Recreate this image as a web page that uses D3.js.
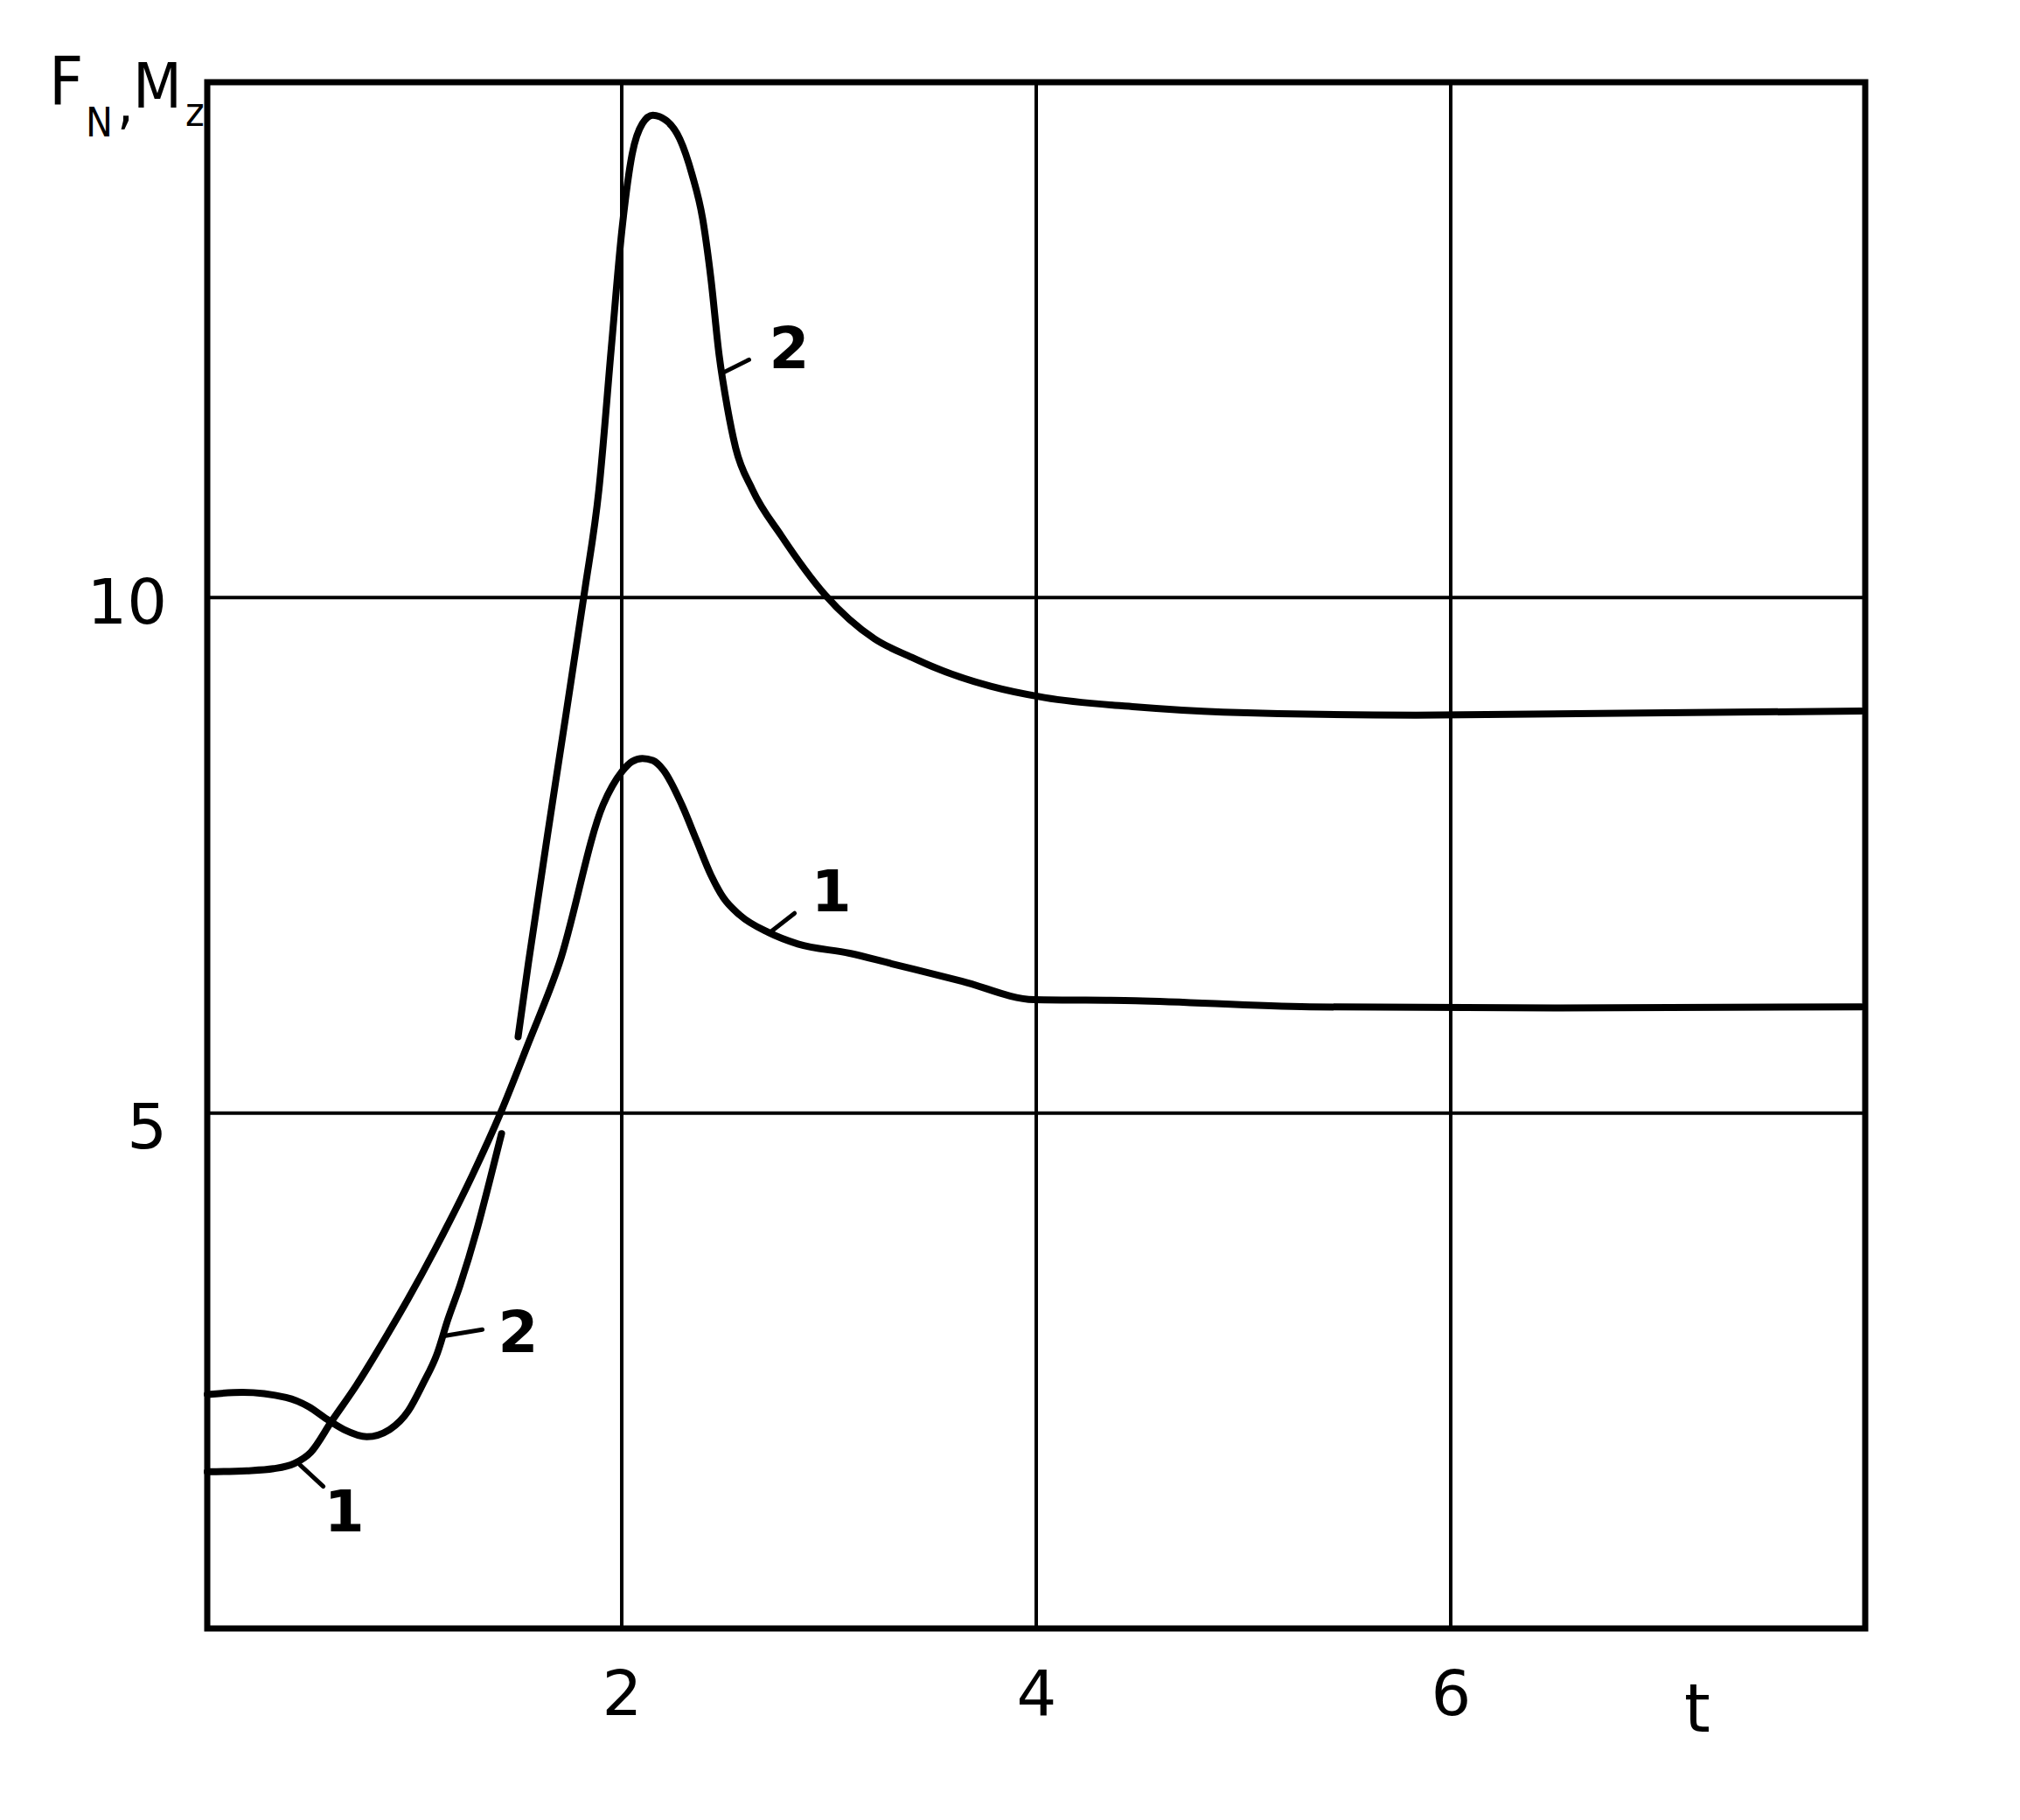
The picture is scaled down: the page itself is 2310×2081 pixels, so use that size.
<!DOCTYPE html>
<html><head><meta charset="utf-8">
<script src="https://cdn.jsdelivr.net/npm/d3@7"></script>
<style>body{margin:0;background:#fff}</style>
</head><body>
<svg id="c" width="2310" height="2081"></svg>
<script>
// ---- data ----
const xDomain = [0, 8];
const yDomain = [0, 15];
const xTicks = [2, 4, 6];
const xTickLabels = ["2", "4", "6"];
const yTicks = [5, 10];
const yTickLabels = ["5", "10"];
const xAxisTitle = "t";

// curve 1
const curve1T = [0, 0.19, 0.32, 0.42, 0.50, 0.60, 0.72, 0.86, 0.97, 1.10, 1.28, 1.415, 1.55, 1.70, 1.91, 2.00, 2.05, 2.10, 2.15, 2.20, 2.29, 2.36, 2.43, 2.49, 2.57, 2.71, 2.85, 3.10, 3.30, 3.64, 3.99, 4.48, 5.32, 6.50, 7.98];
const curve1V = [1.52, 1.53, 1.55, 1.60, 1.71, 2.01, 2.36, 2.82, 3.20, 3.68, 4.40, 5.00, 5.68, 6.46, 7.99, 8.31, 8.41, 8.44, 8.42, 8.33, 7.99, 7.65, 7.31, 7.09, 6.92, 6.75, 6.64, 6.55, 6.45, 6.28, 6.10, 6.09, 6.03, 6.02, 6.03];

// curve 2, lower piece (drawn up to the crossing) and upper piece
const curve2aT = [0, 0.17, 0.38, 0.49, 0.57, 0.66, 0.77, 0.88, 0.97, 1.04, 1.11, 1.16, 1.22, 1.30, 1.36, 1.42];
const curve2aV = [2.27, 2.29, 2.24, 2.15, 2.04, 1.93, 1.86, 1.93, 2.11, 2.37, 2.67, 2.99, 3.33, 3.86, 4.32, 4.80];
const curve2bT = [1.50, 1.55, 1.68, 1.82, 1.89, 1.95, 2.00, 2.05, 2.10, 2.15, 2.22, 2.28, 2.34, 2.39, 2.43, 2.47, 2.51, 2.55, 2.63, 2.77, 2.98, 3.22, 3.40, 3.50, 3.78, 4.04, 4.48, 4.90, 5.83, 7.98];
const curve2bV = [5.74, 6.46, 8.20, 10.05, 11.05, 12.43, 13.55, 14.30, 14.60, 14.68, 14.62, 14.45, 14.10, 13.68, 13.10, 12.35, 11.84, 11.45, 11.05, 10.60, 10.03, 9.60, 9.42, 9.33, 9.14, 9.03, 8.94, 8.89, 8.86, 8.90];

// curve annotations: label text and anchor point on the curve (t, v)
const annoText = ["2", "1", "2", "1"];
const annoT = [2.487, 2.72, 1.15, 0.446];
const annoV = [12.18, 6.76, 2.84, 1.59];

// ---- layout / style ----
const svg = d3.select("#c");
const x = d3.scaleLinear().domain(xDomain).range([237, 2133]);
const y = d3.scaleLinear().domain(yDomain).range([1862, 94]);
const ink = "#000";
const font = "'DejaVu Sans', sans-serif";

const g = svg.append("g");

// grid lines
g.selectAll(".vg").data(xTicks).join("line")
  .attr("x1", d => x(d)).attr("x2", d => x(d))
  .attr("y1", y(yDomain[1])).attr("y2", y(yDomain[0]))
  .attr("stroke", ink).attr("stroke-width", 4);
g.selectAll(".hg").data(yTicks).join("line")
  .attr("y1", d => y(d)).attr("y2", d => y(d))
  .attr("x1", x(xDomain[0])).attr("x2", x(xDomain[1]))
  .attr("stroke", ink).attr("stroke-width", 4);

// frame
g.append("rect")
  .attr("x", x(xDomain[0])).attr("y", y(yDomain[1]))
  .attr("width", x(xDomain[1]) - x(xDomain[0]))
  .attr("height", y(yDomain[0]) - y(yDomain[1]))
  .attr("fill", "none").attr("stroke", ink).attr("stroke-width", 7);

// axes labels (drawn via d3 axes, domain/ticks hidden)
const xAxis = d3.axisBottom(x).tickValues(xTicks).tickFormat((d, i) => xTickLabels[i]).tickSize(0).tickPadding(48);
const gx = g.append("g").attr("transform", `translate(0,${y(yDomain[0])})`).call(xAxis);
gx.select(".domain").remove();
gx.selectAll("text").attr("font-family", font).attr("font-size", 72).attr("fill", ink);

const yAxis = d3.axisLeft(y).tickValues(yTicks).tickFormat((d, i) => yTickLabels[i]).tickSize(0).tickPadding(46);
const gy = g.append("g").attr("transform", `translate(${x(xDomain[0])},0)`).call(yAxis);
gy.select(".domain").remove();
gy.selectAll("text").attr("font-family", font).attr("font-size", 72).attr("fill", ink)
  .attr("dy", (d) => d === 5 ? "0.55em" : "0.4em");

// x axis title "t"
g.append("text").attr("x", x(7.19)).attr("y", 1980)
  .attr("text-anchor", "middle").attr("font-family", font).attr("font-size", 76).attr("fill", ink)
  .text(xAxisTitle);

// y axis title F_N , M_z
const tfont = "'DejaVu Sans Condensed', 'DejaVu Sans', sans-serif";
const yt = g.append("text").attr("font-family", tfont).attr("fill", ink);
yt.append("tspan").attr("x", 56).attr("y", 120).attr("font-size", 76).text("F");
yt.append("tspan").attr("x", 98).attr("y", 156).attr("font-size", 46).text("N");
yt.append("tspan").attr("x", 134).attr("y", 140).attr("font-size", 66).text(",");
yt.append("tspan").attr("x", 152).attr("y", 123).attr("font-size", 72).text("M");
yt.append("tspan").attr("x", 212).attr("y", 144).attr("font-size", 46).text("z");

// curves
const line = d3.line().x(d => x(d[0])).y(d => y(d[1])).curve(d3.curveMonotoneX);
const c1 = curve1T.map((t, i) => [t, curve1V[i]]);
const c2a = curve2aT.map((t, i) => [t, curve2aV[i]]);
const c2b = curve2bT.map((t, i) => [t, curve2bV[i]]);
[c1, c2a, c2b].forEach(pts => {
  g.append("path").attr("d", line(pts)).attr("fill", "none")
    .attr("stroke", ink).attr("stroke-width", 8)
    .attr("stroke-linecap", "round").attr("stroke-linejoin", "round");
});

// annotations: leader line + label (pixel offsets are styling)
const leadDX = [30, 27, 42, 27];
const leadDY = [-15, -21, -7, 25];
const labDX = [76, 69, 83, 51];
const labDY = [-29, -47, -5, 53];
annoText.forEach((txt, i) => {
  const ax = x(annoT[i]), ay = y(annoV[i]);
  g.append("line").attr("x1", ax).attr("y1", ay)
    .attr("x2", ax + leadDX[i]).attr("y2", ay + leadDY[i])
    .attr("stroke", ink).attr("stroke-width", 5).attr("stroke-linecap", "round");
  g.append("text").attr("x", ax + labDX[i]).attr("y", ay + labDY[i])
    .attr("dy", "0.36em").attr("text-anchor", "middle")
    .attr("font-family", font).attr("font-weight", "bold").attr("font-size", 66).attr("fill", ink)
    .text(txt);
});
</script>
</body></html>
